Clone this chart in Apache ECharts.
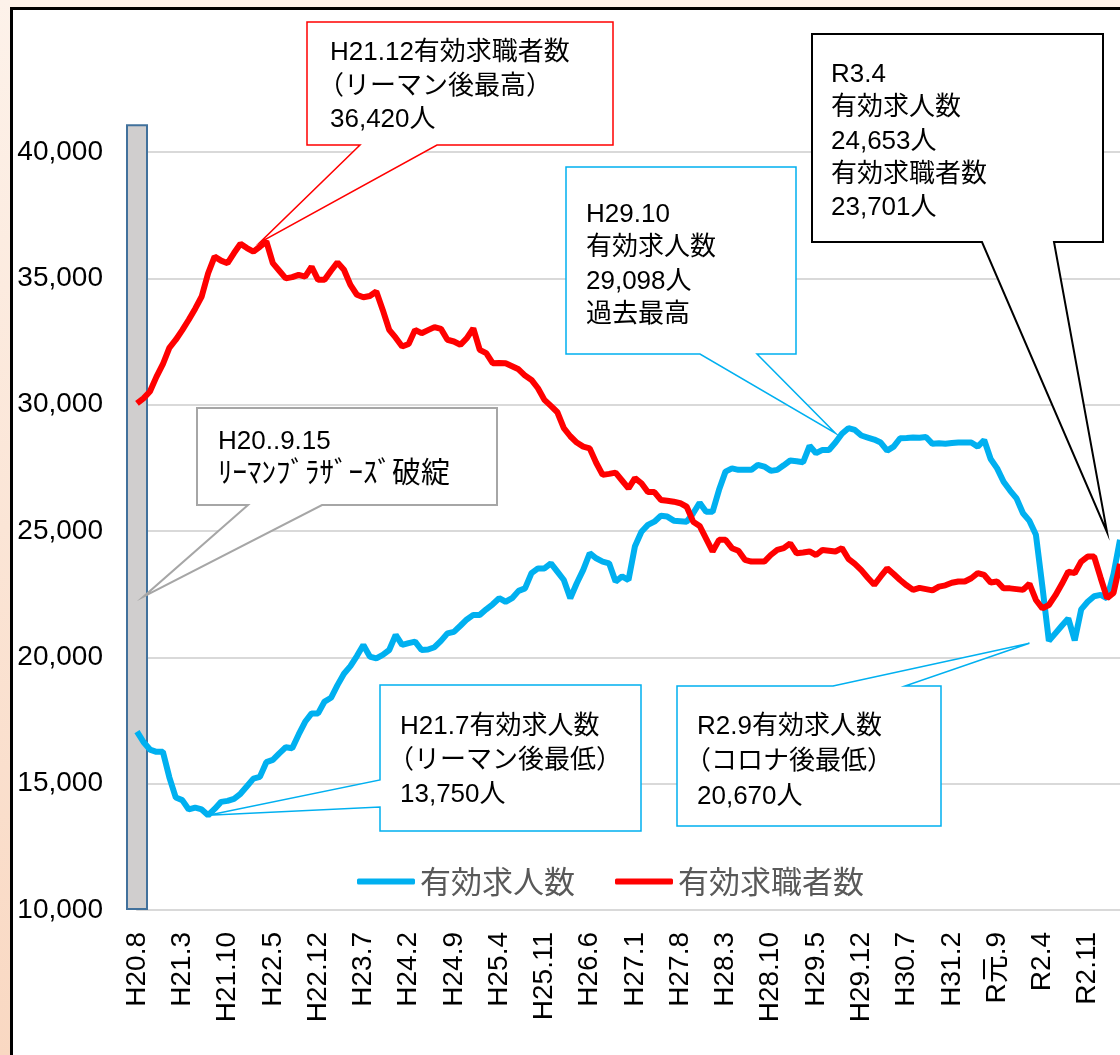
<!DOCTYPE html>
<html>
<head>
<meta charset="utf-8">
<script src="https://cdn.jsdelivr.net/npm/echarts@6/dist/echarts.min.js"></script>
<style>
html,body{margin:0;padding:0;overflow:hidden;}
body{background:linear-gradient(180deg,#fdf2ea 0%,#f9d8c2 100%);}
#main{width:1120px;height:1055px;}
</style>
</head>
<body>
<div id="main"></div>
<script>
// 月ラベル H20.8 〜 R3.4
var months = [];
for (var i = 0; i < 153; i++) {
    var yy = 2008 + Math.floor((7 + i) / 12);
    var mm = (7 + i) % 12 + 1;
    var era;
    if (yy < 2019 || (yy === 2019 && mm <= 4)) era = 'H' + (yy - 1988);
    else era = 'R' + (yy === 2019 ? '元' : (yy - 2018));
    months.push(era + '.' + mm);
}

// 有効求人数
var jobs = [
    17060,16650,16350,16260,16260,15250,14450,14350,13980,14050,
    13980,13750,14000,14280,14320,14400,14600,14900,15200,15270,
    15850,15940,16200,16440,16400,16950,17450,17780,17780,18250,
    18400,18900,19350,19650,20050,20490,20030,19960,20100,20290,
    20890,20490,20560,20620,20290,20310,20400,20650,20950,21010,
    21250,21500,21680,21680,21900,22100,22340,22200,22340,22630,
    22730,23330,23520,23520,23720,23390,23060,22340,22930,23460,
    24120,23920,23790,23720,23000,23200,23060,24400,24970,25240,
    25370,25600,25570,25410,25390,25370,25700,26120,25760,25760,
    26630,27350,27480,27420,27420,27420,27620,27550,27380,27420,
    27600,27790,27760,27720,28370,28080,28210,28210,28500,28850,
    29070,29000,28780,28700,28620,28500,28180,28340,28670,28680,
    28700,28690,28720,28450,28470,28450,28480,28500,28500,28500,
    28340,28600,27850,27480,26950,26600,26290,25700,25400,24850,
    22800,20650,20950,21250,21540,20670,21900,22200,22420,22470,
    22340,23300,24653
];

// 有効求職者数
var seekers = [
    30050,30250,30520,31100,31600,32250,32570,32950,33360,33800,
    34280,35200,35860,35700,35600,36000,36370,36200,36060,36250,
    36460,35600,35300,35000,35050,35140,35070,35460,34940,34940,
    35300,35630,35340,34740,34350,34250,34300,34480,33750,32960,
    32650,32300,32400,32960,32830,32950,33070,33000,32570,32500,
    32370,32630,33020,32170,32040,31640,31650,31640,31520,31400,
    31150,30980,30650,30190,29950,29700,29070,28750,28500,28340,
    28270,27700,27220,27260,27310,27000,26690,27090,26890,26540,
    26540,26230,26200,26160,26100,25960,25370,25200,24700,24190,
    24650,24650,24320,24220,23860,23790,23790,23790,24050,24250,
    24320,24510,24120,24150,24190,24050,24250,24220,24190,24320,
    23900,23700,23450,23150,22870,23200,23520,23300,23060,22850,
    22670,22750,22700,22650,22800,22850,22950,23000,23000,23130,
    23330,23260,22960,23000,22730,22730,22700,22670,22910,22270,
    21940,22070,22450,22900,23390,23330,23790,23990,23990,23150,
    22340,22550,23701
];

// リーマンショックの帯（H20.8 の位置、10,000〜41,100）
var lehmanFrom = 10000;
var lehmanTo = 41100;
var lehmanBase = [lehmanFrom];
var lehmanBar = [lehmanTo - lehmanFrom];
for (var k = 1; k < months.length; k++) { lehmanBase.push('-'); lehmanBar.push('-'); }

// 吹き出し：文章と指す点 [月index, 値]
var notes = [
    { lines: ['H21.12有効求職者数', '（リーマン後最高）', '36,420人'], tip: [19, 36420] },
    { lines: ['R3.4', '有効求人数', '24,653人', '有効求職者数', '23,701人'], tip: [150, 24950] },
    { lines: ['H29.10', '有効求人数', '29,098人', '過去最高'], tip: [108, 28870] },
    { lines: ['H20..9.15', 'ﾘｰﾏﾝﾌﾞﾗｻﾞｰｽﾞ破綻'], tip: [1, 22400] },
    { lines: ['H21.7有効求人数', '（リーマン後最低）', '13,750人'], tip: [11, 13750] },
    { lines: ['R2.9有効求人数', '（コロナ後最低）', '20,670人'], tip: [138, 20560] }
];

// 吹き出しの配置
var boxes = [
    { x0: 307, y0: 22, x1: 613, y1: 145, edge: 'bottom', b1: 360, b2: 437, color: '#ff0000', lw: 1.5, tx: 330, ty: 53, gap: 33.5 },
    { x0: 812, y0: 34, x1: 1103, y1: 242, edge: 'bottom', b1: 982, b2: 1054, color: '#000000', lw: 2, tx: 831, ty: 75, gap: 33.3 },
    { x0: 566, y0: 167, x1: 796, y1: 354, edge: 'bottom', b1: 700, b2: 757, color: '#00b0f0', lw: 1.5, tx: 586, ty: 215, gap: 33.3 },
    { x0: 197, y0: 408, x1: 497, y1: 505, edge: 'bottom', b1: 248, b2: 322, color: '#a6a6a6', lw: 2, tx: 218, ty: 442, gap: 33 },
    { x0: 380, y0: 685, x1: 641, y1: 831, edge: 'left', b1: 780, b2: 807, color: '#00b0f0', lw: 1.5, tx: 400, ty: 727, gap: 34 },
    { x0: 677, y0: 686, x1: 941, y1: 826, edge: 'top', b1: 833, b2: 905, color: '#00b0f0', lw: 1.5, tx: 697, ty: 727, gap: 35 }
];

var FONT = '"Liberation Sans", "Noto Sans CJK JP", sans-serif';

var chart = echarts.init(document.getElementById('main'), null, { renderer: 'canvas' });

var option = {
    backgroundColor: 'transparent',
    animation: false,
    grid: { left: 137, right: 0, top: 152, bottom: 145, containLabel: false, outerBoundsMode: 'none' },
    legend: {
        data: ['有効求人数', '有効求職者数'],
        left: 352,
        top: 861,
        itemWidth: 58,
        itemHeight: 6,
        itemGap: 40,
        icon: 'roundRect',
        textStyle: { fontSize: 31, color: '#595959', fontFamily: '"Noto Sans CJK JP", sans-serif' }
    },
    xAxis: {
        type: 'category',
        data: months,
        boundaryGap: false,
        axisLine: { lineStyle: { color: '#d9d9d9', width: 2 } },
        axisTick: { show: false },
        axisLabel: {
            interval: 6,
            rotate: 90,
            margin: 22,
            fontSize: 28,
            color: '#000',
            fontFamily: FONT
        },
        splitLine: { show: false }
    },
    yAxis: {
        type: 'value',
        min: 10000,
        max: 40000,
        interval: 5000,
        axisLine: { show: false },
        axisTick: { show: false },
        axisLabel: {
            margin: 34,
            fontSize: 28,
            color: '#000',
            fontFamily: FONT,
            formatter: function (v) { return v.toLocaleString('en-US'); }
        },
        splitLine: { lineStyle: { color: '#d9d9d9', width: 2 } }
    },
    series: [
        {
            name: 'base',
            type: 'bar',
            stack: 'lehman',
            data: lehmanBase,
            barWidth: 22,
            silent: true,
            z: 1,
            itemStyle: { color: 'rgba(0,0,0,0)' }
        },
        {
            name: 'リーマン',
            type: 'bar',
            stack: 'lehman',
            data: lehmanBar,
            barWidth: 22,
            clip: false,
            z: 1,
            itemStyle: { color: '#d0cece', borderColor: '#41719c', borderWidth: 2 }
        },
        {
            name: '有効求人数',
            type: 'line',
            data: jobs,
            showSymbol: false,
            symbol: 'none',
            z: 3,
            itemStyle: { color: '#00b0f0' },
            lineStyle: { color: '#00b0f0', width: 6 }
        },
        {
            name: '有効求職者数',
            type: 'line',
            data: seekers,
            showSymbol: false,
            symbol: 'none',
            z: 4,
            itemStyle: { color: '#ff0000' },
            lineStyle: { color: '#ff0000', width: 6 }
        }
    ]
};

chart.setOption(option);

// 枠と吹き出しを描く
var elements = [{
    type: 'rect',
    z: -100,
    silent: true,
    shape: { x: 11.5, y: 8.5, width: 1300, height: 1300 },
    style: { fill: '#ffffff', stroke: '#000000', lineWidth: 3 }
}];

notes.forEach(function (n, idx) {
    var b = boxes[idx];
    var tip = chart.convertToPixel({ gridIndex: 0 }, n.tip);
    var pts;
    if (b.edge === 'bottom') {
        pts = [[b.x0, b.y0], [b.x1, b.y0], [b.x1, b.y1], [b.b2, b.y1], tip, [b.b1, b.y1], [b.x0, b.y1]];
    } else if (b.edge === 'top') {
        pts = [[b.x0, b.y0], [b.b1, b.y0], tip, [b.b2, b.y0], [b.x1, b.y0], [b.x1, b.y1], [b.x0, b.y1]];
    } else {
        pts = [[b.x0, b.y0], [b.x1, b.y0], [b.x1, b.y1], [b.x0, b.y1], [b.x0, b.b2], tip, [b.x0, b.b1]];
    }
    elements.push({
        type: 'polygon',
        z: 100,
        silent: true,
        shape: { points: pts },
        style: { fill: '#ffffff', stroke: b.color, lineWidth: b.lw, lineJoin: 'miter' }
    });
    n.lines.forEach(function (t, j) {
        // 全角括弧は字面が右寄りなので少し左へ
        var dx = t.charAt(0) === '（' ? -12 : 0;
        var half = /[ｦ-ﾟ]/.test(t);
        elements.push({
            type: 'text',
            z: 101,
            silent: true,
            style: {
                text: t,
                x: b.tx + dx,
                y: b.ty + j * b.gap,
                font: (half ? '29px ' : '26px ') + FONT,
                fill: '#000000',
                textAlign: 'left',
                textVerticalAlign: 'middle',
                verticalAlign: 'middle'
            }
        });
    });
});

chart.setOption({ graphic: { elements: elements } });
</script>
</body>
</html>
